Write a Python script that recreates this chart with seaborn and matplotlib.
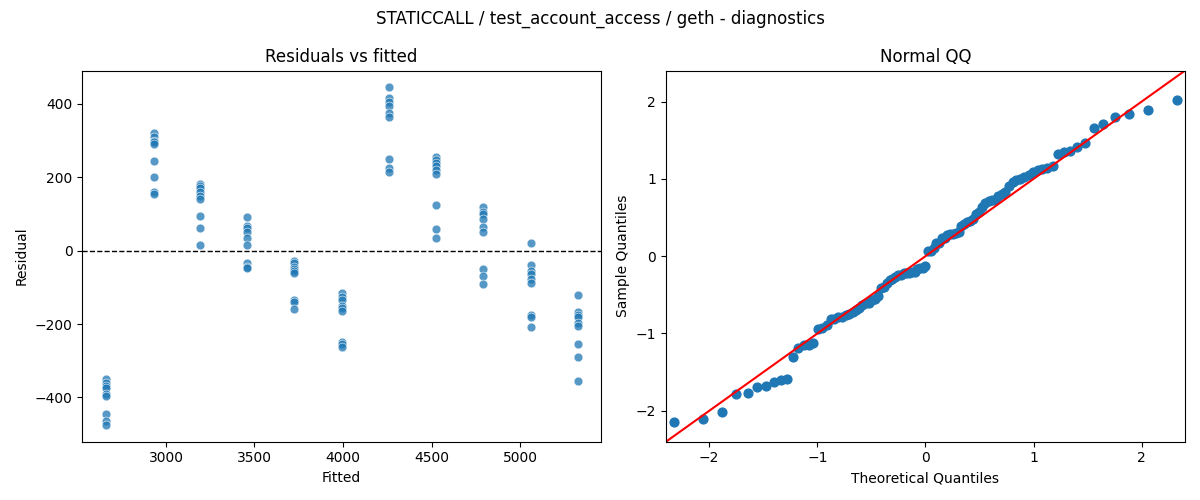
import numpy as np
import pandas as pd
import matplotlib
matplotlib.use("Agg")
import matplotlib.pyplot as plt
import seaborn as sns
from statistics import NormalDist

# fitted value of each group and the residuals
fitted_levels = [2660, 2930, 3195, 3460, 3725, 3995, 4260, 4525, 4790, 5060, 5325]
res_2660 = [-350, -360, -370, -375, -390, -395, -445, -465, -475]
res_2930 = [322, 310, 300, 295, 290, 245, 200, 160, 155]
res_3195 = [183, 175, 170, 160, 150, 140, 95, 62, 15]
res_3460 = [92, 68, 62, 50, 35, 15, -35, -45, -48]
res_3725 = [-28, -35, -45, -50, -55, -60, -135, -140, -160]
res_3995 = [-115, -125, -135, -150, -155, -165, -250, -255, -262]
res_4260 = [445, 415, 405, 395, 375, 365, 250, 225, 215]
res_4525 = [255, 248, 240, 230, 220, 210, 125, 60, 35]
res_4790 = [118, 105, 100, 85, 65, 52, -50, -70, -92]
res_5060 = [22, -38, -55, -65, -78, -88, -175, -180, -208]
res_5325 = [-122, -168, -175, -180, -198, -205, -255, -290, -355]
groups = [res_2660, res_2930, res_3195, res_3460, res_3725, res_3995,
          res_4260, res_4525, res_4790, res_5060, res_5325]

df = pd.DataFrame({
    "fitted": np.repeat(fitted_levels, [len(g) for g in groups]),
    "resid": np.concatenate(groups),
})

# QQ against a standard normal, residuals standardised
r = np.sort(df["resid"].values.astype(float))
z = (r - r.mean()) / r.std()
n = len(z)
theo = np.array([NormalDist().inv_cdf(i / (n + 1)) for i in range(1, n + 1)])

fig, axes = plt.subplots(1, 2, figsize=(12, 5), dpi=100)

ax = axes[0]
sns.scatterplot(data=df, x="fitted", y="resid", ax=ax, alpha=0.75, s=40, edgecolor="white")
ax.axhline(0, color="black", linestyle="--", linewidth=1)
ax.set_title("Residuals vs fitted")
ax.set_xlabel("Fitted")
ax.set_ylabel("Residual")

ax = axes[1]
ax.scatter(theo, z, s=40, color="#1f77b4")
ax.set_xlim(-2.4, 2.4)
ax.set_ylim(-2.4, 2.4)
ax.plot([-2.4, 2.4], [-2.4, 2.4], color="red")
ax.set_title("Normal QQ")
ax.set_xlabel("Theoretical Quantiles")
ax.set_ylabel("Sample Quantiles")

fig.suptitle("STATICCALL / test_account_access / geth - diagnostics")
fig.tight_layout()
fig.savefig("out.png")
